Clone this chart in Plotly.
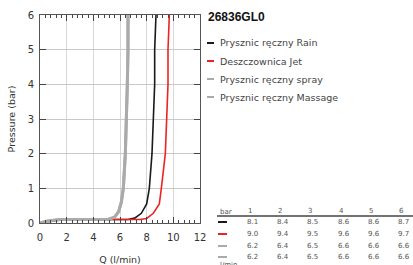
import plotly.graph_objects as go

# ---- data ----
model = "26836GL0"
series_names = ["Prysznic ręczny Rain", "Deszczownica Jet", "Prysznic ręczny spray", "Prysznic ręczny Massage"]
series_colors = ["#1a1a1a", "#ee2222", "#aaaaaa", "#aaaaaa"]
series_widths = [1.6, 1.6, 3, 3]

rain_q = [0, 0.5, 1.5, 6.6, 7.1, 7.6, 8.0, 8.2, 8.4, 8.5, 8.6, 8.6, 8.7]
rain_p = [0, 0.05, 0.1, 0.1, 0.14, 0.28, 0.55, 1.0, 2.0, 3.0, 4.0, 5.0, 6.0]
jet_q = [0, 0.8, 1.8, 7.5, 8.0, 8.5, 8.95, 9.1, 9.4, 9.5, 9.6, 9.6, 9.7]
jet_p = [0, 0.05, 0.1, 0.1, 0.13, 0.28, 0.55, 1.0, 2.0, 3.0, 4.0, 5.0, 6.0]
spray_q = [0, 0.5, 1.5, 5.1, 5.6, 5.9, 6.1, 6.25, 6.4, 6.5, 6.55, 6.6, 6.6]
spray_p = [0, 0.05, 0.1, 0.1, 0.17, 0.33, 0.6, 1.0, 2.0, 3.0, 4.0, 5.0, 6.0]
massage_q = [0, 0.5, 1.5, 5.1, 5.6, 5.9, 6.1, 6.25, 6.4, 6.5, 6.55, 6.6, 6.6]
massage_p = [0, 0.05, 0.1, 0.1, 0.17, 0.33, 0.6, 1.0, 2.0, 3.0, 4.0, 5.0, 6.0]

table_bar = ["1", "2", "3", "4", "5", "6"]
table_rain = ["8.1", "8.4", "8.5", "8.6", "8.6", "8.7"]
table_jet = ["9.0", "9.4", "9.5", "9.6", "9.6", "9.7"]
table_spray = ["6.2", "6.4", "6.5", "6.6", "6.6", "6.6"]
table_massage = ["6.2", "6.4", "6.5", "6.6", "6.6", "6.6"]

x_ticks = [0, 2, 4, 6, 8, 10, 12]
y_ticks = [0, 1, 2, 3, 4, 5, 6]

# ---- figure ----
W, H = 413, 265
L, R, T, B = 40, 213, 15, 42
pw, ph = W - L - R, H - T - B

def px(x):
    return (x - L) / pw

def py(y):
    return (H - B - y) / ph

fig = go.Figure()
all_q = [rain_q, jet_q, spray_q, massage_q]
all_p = [rain_p, jet_p, spray_p, massage_p]
order = [0, 1, 2, 3]
for i in order:
    fig.add_trace(go.Scatter(x=all_q[i], y=all_p[i], mode="lines", name=series_names[i],
                             line=dict(color=series_colors[i], width=series_widths[i]),
                             showlegend=False))

font = "DejaVu Sans"
fig.update_layout(
    width=W, height=H, margin=dict(l=L, r=R, t=T, b=B, autoexpand=False),
    paper_bgcolor="white", plot_bgcolor="white",
    font=dict(family=font, size=10, color="#333333"),
    xaxis=dict(range=[0, 12], tickvals=x_ticks, ticks="inside", ticklen=6, tickcolor="#444",
               showgrid=True, gridcolor="#d8d8d8", gridwidth=1, zeroline=False, automargin=False,
               showline=True, linecolor="#555", linewidth=1, mirror="ticks",
               minor=dict(dtick=0.4, ticks="inside", ticklen=3, tickcolor="#444", showgrid=False),
               ticklabelstandoff=5,
               title=dict(text="Q (l/min)", font=dict(size=9.5), standoff=14),
               tickfont=dict(size=10)),
    yaxis=dict(range=[0, 6], tickvals=y_ticks, ticks="inside", ticklen=6, tickcolor="#444",
               showgrid=True, gridcolor="#c8c8c8", gridwidth=1, zeroline=False, automargin=False,
               showline=True, linecolor="#555", linewidth=1, mirror="ticks",
               ticklabelstandoff=3,
               title=dict(text="Pressure (bar)", font=dict(size=9.5), standoff=10),
               tickfont=dict(size=10)),
)

ann = []
shapes = []
# legend
ann.append(dict(x=px(206), y=py(17), xref="paper", yref="paper", xanchor="left", yanchor="middle",
                text="<b>" + model + "</b>", showarrow=False,
                font=dict(family="Liberation Sans", size=12, color="#111")))
leg_y = [43, 61, 79, 97]
for i, name in enumerate(series_names):
    yy = leg_y[i]
    shapes.append(dict(type="line", xref="paper", yref="paper", x0=px(207), x1=px(214),
                       y0=py(yy), y1=py(yy), line=dict(color=series_colors[i], width=2)))
    ann.append(dict(x=px(218), y=py(yy), xref="paper", yref="paper", xanchor="left", yanchor="middle",
                    text=name, showarrow=False, font=dict(family=font, size=9.5, color="#444")))

# table
tfont = dict(family=font, size=7, color="#555")
col_x = [247, 277, 307, 338, 368, 398]
ann.append(dict(x=px(218), y=py(212), xref="paper", yref="paper", xanchor="left", yanchor="middle",
                text="bar", showarrow=False, font=tfont))
for j, b in enumerate(table_bar):
    ann.append(dict(x=px(col_x[j] - 1), y=py(211), xref="paper", yref="paper", xanchor="left", yanchor="middle",
                    text=b, showarrow=False, font=tfont))
shapes.append(dict(type="line", xref="paper", yref="paper", x0=px(217), x1=px(413),
                   y0=py(216), y1=py(216), line=dict(color="#444", width=1.6)))
rows = [table_rain, table_jet, table_spray, table_massage]
row_y = [222, 234, 246, 257]
for i, row in enumerate(rows):
    shapes.append(dict(type="line", xref="paper", yref="paper", x0=px(218), x1=px(227),
                       y0=py(row_y[i]), y1=py(row_y[i]), line=dict(color=series_colors[i], width=2)))
    for j, v in enumerate(row):
        ann.append(dict(x=px(col_x[j] - 2), y=py(row_y[i]), xref="paper", yref="paper",
                        xanchor="left", yanchor="middle", text=v, showarrow=False, font=tfont))
ann.append(dict(x=px(218), y=py(265), xref="paper", yref="paper", xanchor="left", yanchor="middle",
                text="l/min", showarrow=False, font=tfont))

fig.update_layout(annotations=ann, shapes=shapes)
fig.write_html("out.html", config={"displayModeBar": False},
               post_script="document.body.style.margin='0';document.body.style.padding='0';"
                           "document.documentElement.style.overflow='hidden';")
